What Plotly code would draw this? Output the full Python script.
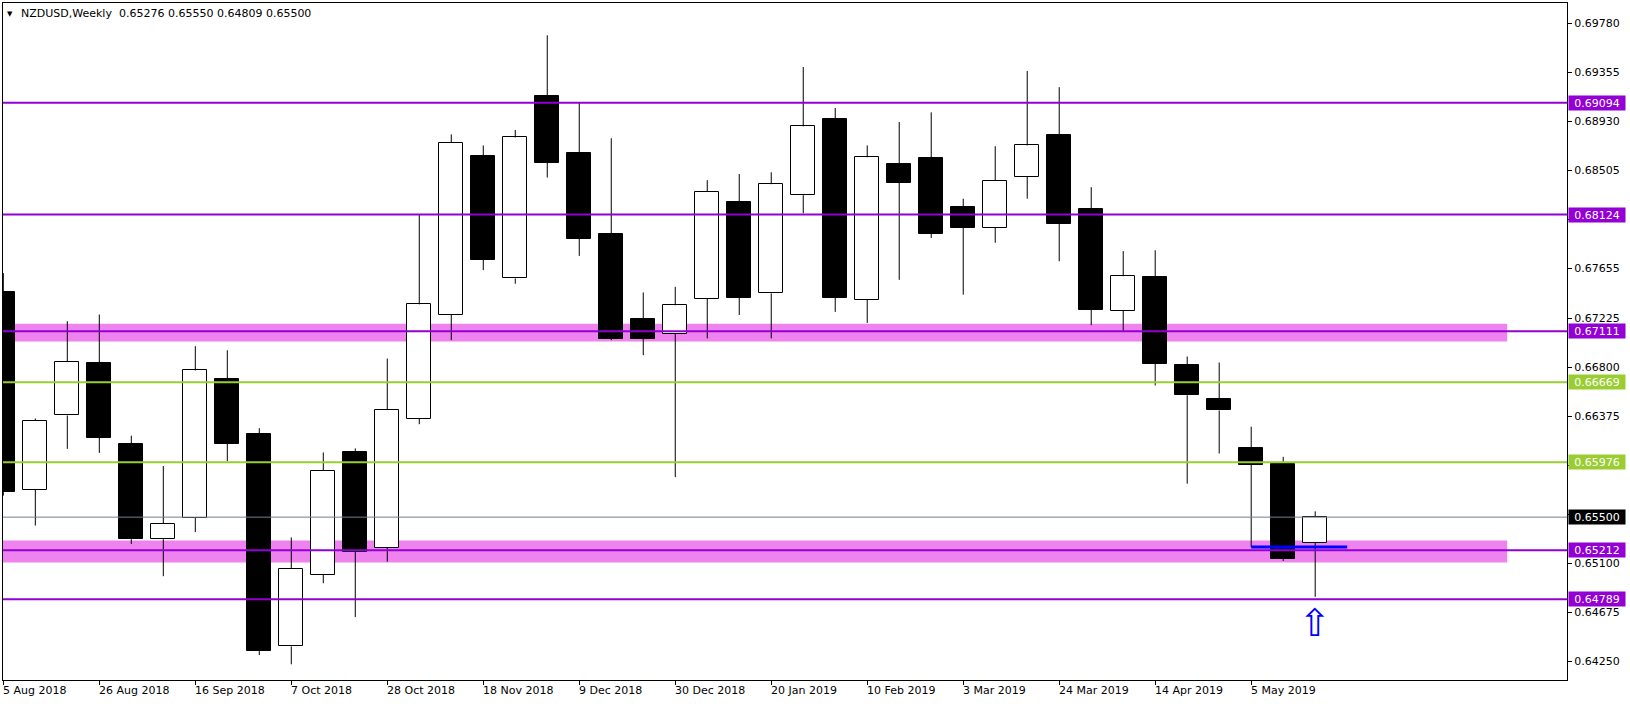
import plotly.graph_objects as go

# ---------------- data ----------------
opens = [0.67448, 0.65736, 0.66382, 0.66833, 0.66130, 0.65309, 0.65492, 0.66695, 0.66225, 0.64380,
         0.64999, 0.66069, 0.65232, 0.66355, 0.67257, 0.68628, 0.67570, 0.69151, 0.68655, 0.67952,
         0.67222, 0.67092, 0.67394, 0.68231, 0.67440, 0.68292, 0.68953, 0.67387, 0.68559, 0.68613,
         0.68189, 0.68009, 0.68452, 0.68811, 0.68170, 0.67291, 0.67581, 0.66815, 0.66528, 0.66101,
         0.65962, 0.65276]
highs = [0.67616, 0.66355, 0.67199, 0.67257, 0.66206, 0.65943, 0.66982, 0.66947, 0.66271, 0.65324,
         0.66061, 0.66096, 0.66875, 0.68124, 0.68819, 0.68723, 0.68857, 0.69678, 0.69094, 0.68785,
         0.67448, 0.67497, 0.68422, 0.68475, 0.68490, 0.69403, 0.69048, 0.68723, 0.68926, 0.69010,
         0.68261, 0.68716, 0.69369, 0.69228, 0.68361, 0.67807, 0.67814, 0.66893, 0.66841, 0.66284,
         0.66023, 0.65550]
lows = [0.65687, 0.65427, 0.66092, 0.66057, 0.65267, 0.64988, 0.65370, 0.65985, 0.64304, 0.64224,
        0.64927, 0.64633, 0.65114, 0.66306, 0.67035, 0.67642, 0.67524, 0.68445, 0.67765, 0.67035,
        0.66905, 0.65847, 0.67050, 0.67253, 0.67050, 0.68135, 0.67280, 0.67184, 0.67558, 0.67921,
        0.67429, 0.67879, 0.68261, 0.67719, 0.67165, 0.67112, 0.66642, 0.65790, 0.66052, 0.65242,
        0.65120, 0.64809]
closes = [0.65717, 0.66336, 0.66848, 0.66187, 0.65309, 0.65442, 0.66772, 0.66134, 0.64338, 0.65053,
          0.65904, 0.65202, 0.66432, 0.67345, 0.68746, 0.67730, 0.68792, 0.68574, 0.67914, 0.67047,
          0.67047, 0.67337, 0.68322, 0.67402, 0.68387, 0.68888, 0.67402, 0.68620, 0.68399, 0.67956,
          0.68009, 0.68418, 0.68723, 0.68044, 0.67299, 0.67589, 0.66829, 0.66557, 0.66426, 0.65956,
          0.65137, 0.65500]

date_tick_index = [0, 3, 6, 9, 12, 15, 18, 21, 24, 27, 30, 33, 36, 39]
date_tick_labels = ["5 Aug 2018", "26 Aug 2018", "16 Sep 2018", "7 Oct 2018", "28 Oct 2018",
                    "18 Nov 2018", "9 Dec 2018", "30 Dec 2018", "20 Jan 2019", "10 Feb 2019",
                    "3 Mar 2019", "24 Mar 2019", "14 Apr 2019", "5 May 2019"]

# price scale ticks (the ones covered by level labels are left without text)
price_ticks = [0.69780, 0.69355, 0.68930, 0.68505, 0.68080, 0.67655, 0.67225, 0.66800,
               0.66375, 0.65950, 0.65525, 0.65100, 0.64675, 0.64250]
price_tick_labels = ["0.69780", "0.69355", "0.68930", "0.68505", "", "0.67655", "0.67225",
                     "0.66800", "0.66375", "", "", "0.65100", "0.64675", "0.64250"]

purple_levels = [0.69094, 0.68124, 0.67111, 0.65212, 0.64789]
green_levels = [0.66669, 0.65976]
bid_price = 0.65500

zone_low = [0.67024, 0.65106]
zone_high = [0.67177, 0.65297]
zone_start = -2
zone_end = 47

blue_x = [39, 42]
blue_y = [0.65242, 0.65242]

arrow_index = 41
arrow_price = 0.64809

title_text = "NZDUSD,Weekly\u00a0\u00a00.65276 0.65550 0.64809 0.65500"

# ---------------- colours ----------------
PURPLE = "#9400D3"
GREEN = "#9ACD32"
PINK = "#EE82EE"
GREY = "#708090"
BLUE = "#0000FF"
FONT = "DejaVu Sans"

n = len(opens)
idx = list(range(n))

body_base = [min(o, c) for o, c in zip(opens, closes)]
body_h = [abs(c - o) for o, c in zip(opens, closes)]
body_col = ["#FFFFFF" if c >= o else "#000000" for o, c in zip(opens, closes)]

wx, wy = [], []
for i, o, h, l, c in zip(idx, opens, highs, lows, closes):
    top = max(o, c)
    bot = min(o, c)
    wx += [i, i, None, i, i, None]
    wy += [h, top, None, bot, l, None]

fig = go.Figure()
fig.add_trace(go.Bar(x=idx, y=body_h, base=body_base, width=0.75,
                     marker=dict(color=body_col, line=dict(color="#000000", width=1)),
                     hoverinfo="skip", showlegend=False))
fig.add_trace(go.Scatter(x=wx, y=wy, mode="lines", line=dict(color="#000000", width=1),
                         hoverinfo="skip", showlegend=False))

shapes = []
for lo, hi in zip(zone_low, zone_high):
    shapes.append(dict(type="rect", xref="x", yref="y", x0=zone_start, x1=zone_end, y0=lo, y1=hi,
                       fillcolor=PINK, line=dict(width=0), layer="below"))
for lv in purple_levels:
    shapes.append(dict(type="line", xref="paper", yref="y", x0=0, x1=1, y0=lv, y1=lv,
                       line=dict(color=PURPLE, width=2), layer="above"))
for lv in green_levels:
    shapes.append(dict(type="line", xref="paper", yref="y", x0=0, x1=1, y0=lv, y1=lv,
                       line=dict(color=GREEN, width=2), layer="above"))
shapes.append(dict(type="line", xref="paper", yref="y", x0=0, x1=1, y0=bid_price, y1=bid_price,
                   line=dict(color=GREY, width=1), layer="above"))
shapes.append(dict(type="line", xref="x", yref="y", x0=blue_x[0], x1=blue_x[1], y0=blue_y[0], y1=blue_y[1],
                   line=dict(color=BLUE, width=3), layer="above"))

annotations = []
def level_label(val, color):
    return dict(xref="paper", yref="y", x=1, y=val, xanchor="left", yanchor="middle",
                xshift=1, text=f"{val:.5f}", showarrow=False, bgcolor=color,
                width=54, height=12, borderpad=1, align="center",
                font=dict(family=FONT, size=11, color="#FFFFFF"))
for lv in purple_levels:
    annotations.append(level_label(lv, PURPLE))
for lv in green_levels:
    annotations.append(level_label(lv, GREEN))
annotations.append(level_label(bid_price, "#000000"))

for i, lab in zip(date_tick_index, date_tick_labels):
    annotations.append(dict(xref="x", yref="paper", x=i, y=0, xanchor="left", yanchor="top",
                            xshift=-2, yshift=-2, text=lab, showarrow=False,
                            font=dict(family=FONT, size=11, color="#000000")))

annotations.append(dict(xref="paper", yref="paper", x=0, y=1, xanchor="left", yanchor="top",
                        xshift=2, yshift=-5, text="\u25BC", showarrow=False,
                        font=dict(family=FONT, size=7, color="#000000")))
annotations.append(dict(xref="paper", yref="paper", x=0, y=1, xanchor="left", yanchor="top",
                        xshift=16, yshift=-2, text=title_text, showarrow=False,
                        font=dict(family=FONT, size=11, color="#000000")))

annotations.append(dict(xref="x", yref="y", x=arrow_index, y=arrow_price, xanchor="center",
                        yanchor="top", yshift=-2, text="\u21E7", showarrow=False,
                        font=dict(family=FONT, size=38, color=BLUE)))

fig.update_layout(
    width=1630, height=704,
    margin=dict(l=3, r=63, t=3, b=24),
    paper_bgcolor="#FFFFFF", plot_bgcolor="#FFFFFF",
    shapes=shapes, annotations=annotations,
    bargap=0, showlegend=False,
    xaxis=dict(range=[-0.01, 48.87], showgrid=False, zeroline=False,
               tickmode="array", tickvals=date_tick_index, ticktext=[""] * len(date_tick_index),
               ticks="outside", ticklen=4, tickcolor="#000000",
               showline=True, linecolor="#000000", linewidth=1, mirror=True, fixedrange=True),
    yaxis=dict(range=[0.64088, 0.69958], side="right", showgrid=False, zeroline=False,
               tickmode="array", tickvals=price_ticks, ticktext=price_tick_labels,
               ticks="outside", ticklen=4, tickcolor="#000000",
               tickfont=dict(family=FONT, size=11, color="#000000"),
               showline=True, linecolor="#000000", linewidth=1, mirror=True, fixedrange=True),
)

fig.write_html("out.html", config={"displayModeBar": False},
               post_script="document.body.style.margin='0';document.body.style.overflow='hidden';")
